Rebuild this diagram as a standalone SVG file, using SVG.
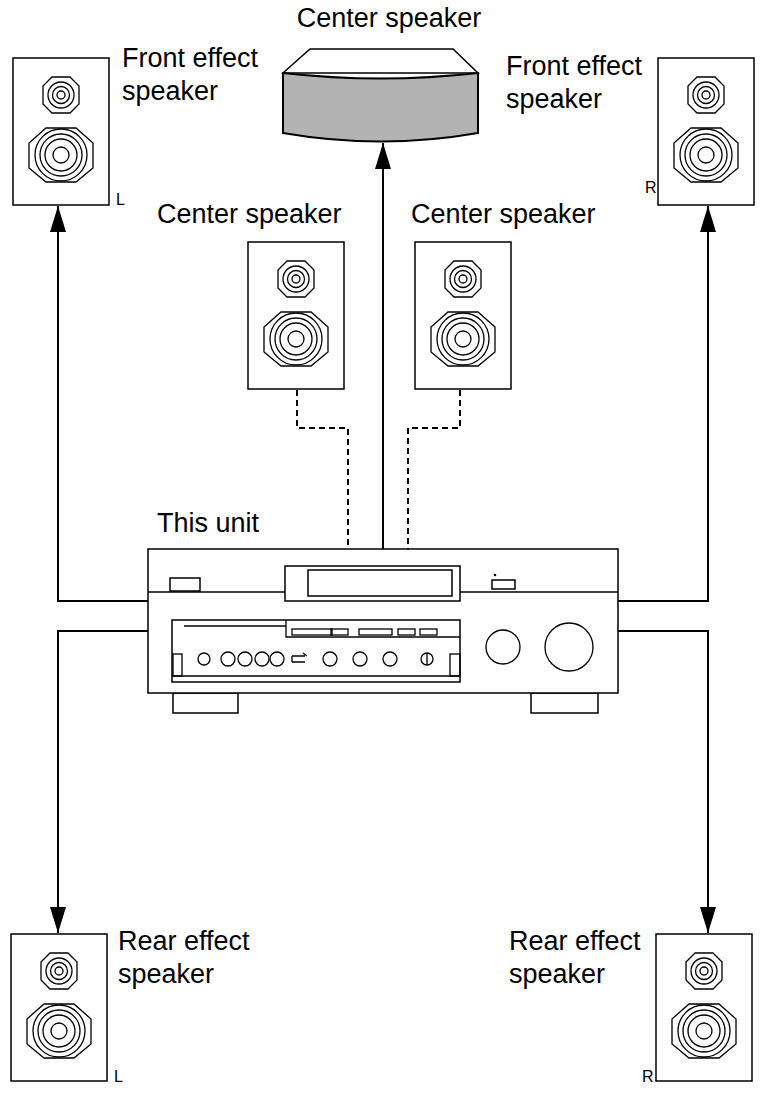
<svg xmlns="http://www.w3.org/2000/svg" width="768" height="1098" viewBox="0 0 768 1098">
<style>
.t{font-family:"Liberation Sans",Arial,sans-serif;font-size:27px;fill:#000}
.s{font-family:"Liberation Sans",Arial,sans-serif;font-size:16px;fill:#000}
.l{fill:none;stroke:#000;stroke-width:2}
.d{fill:none;stroke:#000;stroke-width:2;stroke-dasharray:6,4}
.o{fill:#fff;stroke:#000;stroke-width:1.5}
.th{fill:none;stroke:#000;stroke-width:1.3}
</style>
<defs>
<marker id="a" markerWidth="26" markerHeight="16" refX="26" refY="8" orient="auto" markerUnits="userSpaceOnUse" viewBox="0 0 26 16">
<path d="M0,0 L26,8 L0,16 Z" fill="#000"/></marker>
<g id="spk">
<rect x="0" y="0" width="96" height="147" class="o" stroke-width="2"/>
<polygon points="39,19 57,19 66,28 66,46 57,55 39,55 30,46 30,28" class="th"/>
<circle cx="48" cy="37" r="13" class="th"/><circle cx="48" cy="37" r="8.5" class="th"/><circle cx="48" cy="37" r="4" class="th"/>
<polygon points="33,70 63,70 80,85 80,110 63,124 33,124 16,110 16,85" class="th"/>
<circle cx="48" cy="97" r="26" class="th"/><circle cx="48" cy="97" r="21" class="th" stroke-width="2"/><circle cx="48" cy="97" r="16" class="th"/><circle cx="48" cy="97" r="8" class="th"/>
</g>
</defs>
<g id="connectors">
<path class="l" d="M148,601 H58 V206" marker-end="url(#a)"/>
<path class="l" d="M148,631 H58 V933" marker-end="url(#a)"/>
<path class="l" d="M618,601 H708 V206" marker-end="url(#a)"/>
<path class="l" d="M618,631 H708 V933" marker-end="url(#a)"/>
<path class="l" d="M383,549 V143" marker-end="url(#a)"/>
<path class="d" d="M297,390 V428 H348 V549"/>
<path class="d" d="M460,390 V428 H408 V549"/>
</g>
<g id="center-top">
<polygon points="310,49 453,49 478,73 283,73" class="o"/>
<path d="M283,73 Q381,84 478,73 V133 Q381,150 283,133 Z" fill="#b3b3b3" stroke="#000" stroke-width="2"/>
<text class="t" x="389" y="27" text-anchor="middle">Center speaker</text>
</g>
<g id="front-left"><use href="#spk" x="13" y="58"/>
<text class="t" x="122" y="67">Front effect</text><text class="t" x="122" y="100">speaker</text><text class="s" x="116" y="205">L</text></g>
<g id="front-right"><use href="#spk" x="658" y="58"/>
<text class="t" x="506" y="75">Front effect</text><text class="t" x="506" y="108">speaker</text><text class="s" x="645" y="193">R</text></g>
<g id="center-left"><use href="#spk" x="248" y="242"/><text class="t" x="157" y="223">Center speaker</text></g>
<g id="center-right"><use href="#spk" x="415" y="242"/><text class="t" x="411" y="223">Center speaker</text></g>
<g id="rear-left"><use href="#spk" x="11" y="934"/>
<text class="t" x="118" y="950">Rear effect</text><text class="t" x="118" y="983">speaker</text><text class="s" x="114" y="1082">L</text></g>
<g id="rear-right"><use href="#spk" x="656" y="934"/>
<text class="t" x="509" y="950">Rear effect</text><text class="t" x="509" y="983">speaker</text><text class="s" x="642" y="1082">R</text></g>
<g id="unit">
<text class="t" x="157" y="532">This unit</text>
<rect x="173" y="693" width="65" height="20" class="o" stroke-width="2"/>
<rect x="531" y="693" width="67" height="20" class="o" stroke-width="2"/>
<rect x="148" y="549" width="470" height="144" class="o" stroke-width="2.5"/>
<line x1="148" y1="592" x2="618" y2="592" class="th"/>
<rect x="170" y="578" width="30" height="13" class="o" stroke-width="1.3"/>
<rect x="285" y="566" width="175" height="35" class="o" stroke-width="1.3"/>
<rect x="308" y="570" width="144" height="26" class="o" stroke-width="1.3"/>
<rect x="492" y="580" width="23" height="9" class="o" stroke-width="1.3"/>
<circle cx="495" cy="575" r="1.3"/>
<rect x="172" y="620" width="288" height="62" class="o" stroke-width="1.3"/>
<line x1="172" y1="676" x2="460" y2="676" class="th"/>
<line x1="184" y1="626" x2="286" y2="626" class="th"/>
<path d="M286,620 V637 H460" class="th"/>
<rect x="292" y="629" width="40" height="6" class="th"/><rect x="331" y="629" width="17" height="6" class="th"/>
<rect x="359" y="629" width="33" height="6" class="th"/><rect x="398" y="629" width="17" height="6" class="th"/><rect x="420" y="629" width="17" height="6" class="th"/>
<rect x="173" y="654" width="9" height="22" class="th"/><rect x="450" y="654" width="10" height="22" class="th"/>
<circle cx="204" cy="659" r="6" class="th"/>
<circle cx="228" cy="659" r="7" class="th"/><circle cx="245" cy="659" r="7" class="th"/><circle cx="262" cy="659" r="7" class="th"/><circle cx="277" cy="659" r="7" class="th"/>
<path d="M292,656 H305 M292,662 H305 M292,656 V662 M303,653 L307,656" class="th"/>
<circle cx="330" cy="659" r="7" class="th"/><circle cx="360" cy="659" r="7" class="th"/><circle cx="390" cy="659" r="7" class="th"/><circle cx="427" cy="659" r="6" class="th"/>
<line x1="427" y1="653" x2="427" y2="665" class="th"/>
<circle cx="503" cy="647" r="17" class="th"/>
<circle cx="569" cy="647" r="24" class="th"/>
</g>
</svg>
